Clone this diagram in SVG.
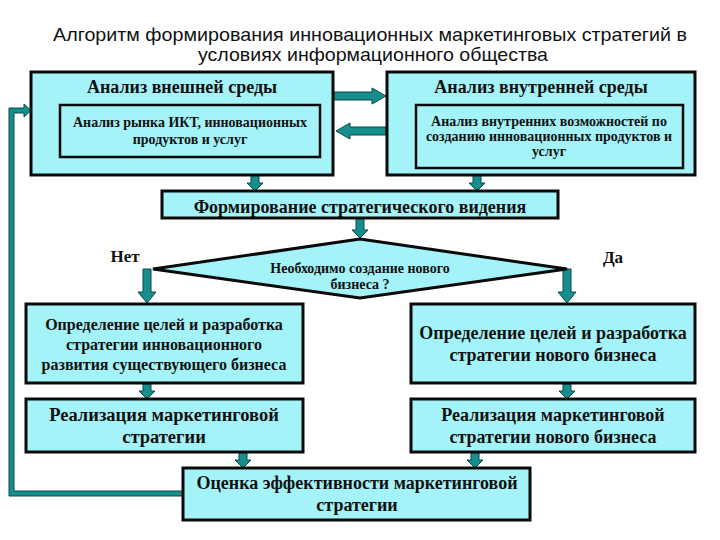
<svg xmlns="http://www.w3.org/2000/svg" width="720" height="540" viewBox="0 0 720 540">
<defs>
<style>
.box{fill:#A3F3F8;stroke:#0a0a0a;stroke-width:3}
.ibox{fill:#A3F3F8;stroke:#0a0a0a;stroke-width:2.5}
.arr{fill:#168E8E;stroke:#0B4A4A;stroke-width:1}
.t{font-family:"Liberation Serif","Times New Roman",serif;font-weight:bold;fill:#111;text-anchor:middle}
.title{font-family:"Liberation Sans",Arial,sans-serif;font-size:18.5px;fill:#111;text-anchor:middle}
</style>
</defs>
<rect width="720" height="540" fill="#fff"/>
<text class="title" x="370" y="41" textLength="634" lengthAdjust="spacingAndGlyphs">Алгоритм формирования инновационных маркетинговых стратегий в</text>
<text class="title" x="373" y="61" textLength="350" lengthAdjust="spacingAndGlyphs">условиях информационного общества</text>

<g id="connectors">
<polygon class="arr" points="334,92 372,92 372,88 386,96 372,104 372,100 334,100"/>
<polygon class="arr" points="386,127 350,127 350,123 336,131 350,139 350,135 386,135"/>
<polygon class="arr" points="251,175 259,175 259,183 263,183 255,191 247,183 251,183"/>
<polygon class="arr" points="473,175 481,175 481,183 485,183 477,191 469,183 473,183"/>
<polygon class="arr" points="356,218 364,218 364,230 368,230 360,238 352,230 356,230"/>
<polygon class="arr" points="143,269 151,269 151,292 156,292 147,303 138,292 143,292"/>
<polygon class="arr" points="563,269 571,269 571,292 576,292 567,303 558,292 563,292"/>
<polygon class="arr" points="143,384 151,384 151,391 155,391 147,399 139,391 143,391"/>
<polygon class="arr" points="563,384 571,384 571,391 575,391 567,399 559,391 563,391"/>
<polygon class="arr" points="239,453 247,453 247,460 251,460 243,468 235,460 239,460"/>
<polygon class="arr" points="471,453 479,453 479,460 483,460 475,468 467,460 471,460"/>
<polygon class="arr" points="183,491 183,496 9,496 9,108 24,108 24,104 31,110.5 24,117 24,113 14,113 14,491"/>
</g>

<g id="n-external">
<rect class="box" x="31" y="72" width="302" height="103"/>
<text class="t" x="182" y="93" font-size="18">Анализ внешней среды</text>
</g>
<g id="n-market">
<rect class="ibox" x="60" y="105" width="260" height="52"/>
<text class="t" x="190" y="127" font-size="14">Анализ рынка ИКТ, инновационных</text>
<text class="t" x="190" y="144" font-size="14">продуктов и услуг</text>
</g>
<g id="n-internal">
<rect class="box" x="387" y="72" width="308" height="103"/>
<text class="t" x="541" y="93" font-size="18">Анализ внутренней среды</text>
</g>
<g id="n-capabilities">
<rect class="ibox" x="416" y="105" width="267" height="63"/>
<text class="t" x="549" y="126" font-size="14">Анализ внутренних возможностей по</text>
<text class="t" x="549" y="141" font-size="14">созданию инновационных продуктов и</text>
<text class="t" x="549" y="156" font-size="14">услуг</text>
</g>
<g id="n-vision">
<rect class="box" x="162" y="191" width="396" height="27"/>
<text class="t" x="360" y="213" font-size="18">Формирование стратегического видения</text>
</g>
<g id="n-decision">
<polygon points="153,269 360,239 567,269 360,298" fill="#A3F3F8" stroke="#0a0a0a" stroke-width="3" stroke-linejoin="miter"/>
<text class="t" x="360" y="273" font-size="14">Необходимо создание нового</text>
<text class="t" x="360" y="289" font-size="14">бизнеса ?</text>
</g>
<text class="t" x="125" y="262" font-size="17">Нет</text>
<text class="t" x="613" y="263" font-size="17">Да</text>
<g id="n-goals-existing">
<rect class="box" x="26" y="304" width="277" height="79"/>
<text class="t" x="164" y="330" font-size="16">Определение целей и разработка</text>
<text class="t" x="164" y="350" font-size="16">стратегии инновационного</text>
<text class="t" x="164" y="370" font-size="16">развития существующего бизнеса</text>
</g>
<g id="n-goals-new">
<rect class="box" x="411" y="304" width="284" height="79"/>
<text class="t" x="553" y="339" font-size="18">Определение целей и разработка</text>
<text class="t" x="553" y="361" font-size="18">стратегии нового бизнеса</text>
</g>
<g id="n-impl-existing">
<rect class="box" x="26" y="399" width="277" height="53"/>
<text class="t" x="164" y="421" font-size="18.5">Реализация маркетинговой</text>
<text class="t" x="164" y="443" font-size="18.5">стратегии</text>
</g>
<g id="n-impl-new">
<rect class="box" x="411" y="399" width="284" height="53"/>
<text class="t" x="553" y="421" font-size="18">Реализация маркетинговой</text>
<text class="t" x="553" y="443" font-size="18">стратегии нового бизнеса</text>
</g>
<g id="n-evaluation">
<rect class="box" x="183" y="468" width="347" height="52"/>
<text class="t" x="357" y="489" font-size="18">Оценка эффективности маркетинговой</text>
<text class="t" x="357" y="511" font-size="18">стратегии</text>
</g>
</svg>
